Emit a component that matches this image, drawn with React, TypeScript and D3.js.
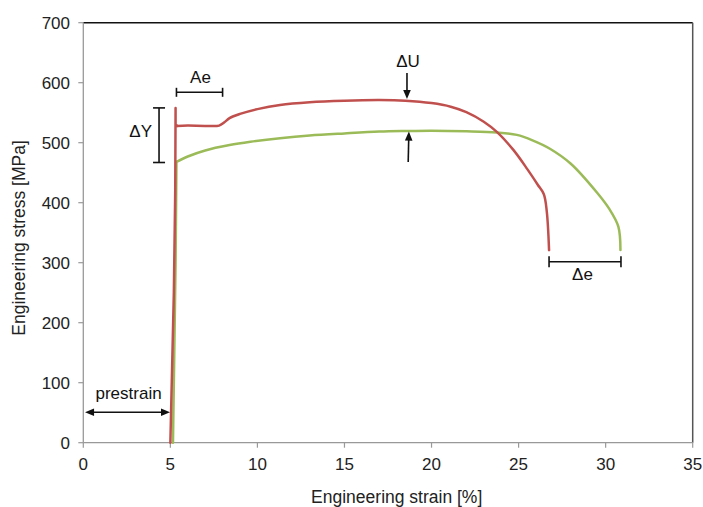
import React from "react";
import * as d3 from "d3";

type P = [number, number];

// Red curve (prestrained, with yield point)
const redElastic: P[] = [[5.0, 0], [5.2, 250], [5.28, 420], [5.3, 558], [5.3, 530], [5.4, 528]];
const redPlastic: P[] = [
  [5.4, 528], [6, 528.5], [7, 528], [7.8, 528.5], [8.1, 534], [8.4, 541], [9, 548], [10, 556],
  [11.3, 563], [13, 567.5], [15, 570], [17, 571], [18.5, 570], [20, 566], [21.1, 560],
  [22, 551], [23, 535], [23.75, 518], [24.7, 488], [25.5, 456], [26.1, 430], [26.45, 414],
  [26.62, 385], [26.75, 321],
];

// Green curve
const greenElastic: P[] = [[5.15, 0], [5.3, 300], [5.35, 468]];
const greenPlastic: P[] = [
  [5.35, 468], [6, 477], [7, 487], [8.4, 496], [9.6, 501.5], [11.3, 507.5], [13, 512],
  [15, 515.5], [17, 518.5], [18.5, 519.5], [20, 520], [22, 519], [23.75, 517], [24.9, 513],
  [25.8, 504], [26.8, 490], [28, 465], [29.5, 417], [30.2, 390], [30.73, 360], [30.85, 321],
];

const xTicks = [0, 5, 10, 15, 20, 25, 30, 35];
const yTicks = [0, 100, 200, 300, 400, 500, 600, 700];

// Annotations in data units
const dimBars = [
  { name: "ΔY", orient: "v", x: 4.35, a: 467, b: 558, cap: 6 },
  { name: "Ae", orient: "h", y: 584, a: 5.35, b: 8.0, cap: 4.5 },
  { name: "Δe", orient: "h", y: 301.7, a: 26.75, b: 30.88, cap: 5.5 },
];
const arrows = [
  { from: [18.59, 616] as P, to: [18.59, 573] as P, heads: 1 },
  { from: [18.66, 468] as P, to: [18.7, 518.5] as P, heads: 1 },
  { from: [4.98, 50.7] as P, to: [0.1, 50.7] as P, heads: 2 },
];
const labels = [
  { text: "ΔY", x: 3.95, y: 509.5, anchor: "end" },
  { text: "Ae", x: 6.73, y: 599, anchor: "middle" },
  { text: "ΔU", x: 18.65, y: 626.7, anchor: "middle" },
  { text: "Δe", x: 28.67, y: 271, anchor: "middle" },
  { text: "prestrain", x: 2.6, y: 72.3, anchor: "middle" },
];

const W = 703, H = 507;
const x = d3.scaleLinear().domain([0, 35]).range([83.3, 692.7]);
const y = d3.scaleLinear().domain([0, 700]).range([442.7, 22.7]);

const RED = "#c0504d";
const GREEN = "#9bbb59";
const FONT = "'Liberation Sans', Arial, sans-serif";

const linLine = d3.line<P>().x(d => x(d[0])).y(d => y(d[1]));
const curveLine = d3.line<P>().x(d => x(d[0])).y(d => y(d[1])).curve(d3.curveCatmullRom.alpha(0.5));

function head(tip: P, from: P) {
  const tx = x(tip[0]), ty = y(tip[1]);
  const fx = x(from[0]), fy = y(from[1]);
  const ang = Math.atan2(ty - fy, tx - fx);
  const L = 9, Wd = 3.8;
  const bx = tx - L * Math.cos(ang), by = ty - L * Math.sin(ang);
  const px = -Math.sin(ang) * Wd, py = Math.cos(ang) * Wd;
  return `M${tx},${ty}L${bx + px},${by + py}L${bx - px},${by - py}Z`;
}

export default function App() {
  const x0 = x.range()[0], x1 = x.range()[1];
  const y0 = y.range()[0], y1 = y.range()[1];
  return (
    <svg width={W} height={H} style={{ position: "absolute", left: 0, top: 0, background: "#fff" }}>
      <rect width={W} height={H} fill="#fff" />
      {/* frame */}
      <line x1={x0} x2={x1} y1={y1} y2={y1} stroke="#111" strokeWidth={1.5} />
      <line x1={x1} x2={x1} y1={y1} y2={y0} stroke="#555" strokeWidth={1.5} />
      <line x1={x0} x2={x0} y1={y1} y2={y0} stroke="#999" strokeWidth={1.3} />
      <line x1={x0} x2={x1} y1={y0} y2={y0} stroke="#999" strokeWidth={1.3} />
      {yTicks.map(t => (
        <g key={"y" + t}>
          <line x1={x0 - 5} x2={x0} y1={y(t)} y2={y(t)} stroke="#999" strokeWidth={1.2} />
          <text x={70} y={y(t)} dy="0.36em" textAnchor="end" fontFamily={FONT} fontSize={17} fill="#222">{t}</text>
        </g>
      ))}
      {xTicks.map(t => (
        <g key={"x" + t}>
          <line x1={x(t)} x2={x(t)} y1={y0} y2={y0 + 5} stroke="#999" strokeWidth={1.2} />
          <text x={x(t)} y={470} textAnchor="middle" fontFamily={FONT} fontSize={17} fill="#222">{t}</text>
        </g>
      ))}
      <text x={396.7} y={502.5} textAnchor="middle" fontFamily={FONT} fontSize={17.5} fill="#222">Engineering strain [%]</text>
      <text transform={`translate(25,238) rotate(-90)`} textAnchor="middle" fontFamily={FONT} fontSize={17.5} fill="#222">Engineering stress [MPa]</text>

      {/* curves */}
      <g fill="none" strokeWidth={2.5} strokeLinejoin="round" strokeLinecap="round">
        <path d={linLine(greenElastic) || ""} stroke={GREEN} />
        <path d={curveLine(greenPlastic) || ""} stroke={GREEN} />
        <path d={linLine(redElastic) || ""} stroke={RED} />
        <path d={curveLine(redPlastic) || ""} stroke={RED} />
      </g>

      {/* dimension bars */}
      {dimBars.map(b => b.orient === "v" ? (
        <g key={b.name} stroke="#111" strokeWidth={1.6}>
          <line x1={x(b.x!)} x2={x(b.x!)} y1={y(b.a)} y2={y(b.b)} />
          <line x1={x(b.x!) - b.cap} x2={x(b.x!) + b.cap} y1={y(b.a)} y2={y(b.a)} />
          <line x1={x(b.x!) - b.cap} x2={x(b.x!) + b.cap} y1={y(b.b)} y2={y(b.b)} />
        </g>
      ) : (
        <g key={b.name} stroke="#111" strokeWidth={1.6}>
          <line x1={x(b.a)} x2={x(b.b)} y1={y(b.y!)} y2={y(b.y!)} />
          <line x1={x(b.a)} x2={x(b.a)} y1={y(b.y!) - b.cap} y2={y(b.y!) + b.cap} />
          <line x1={x(b.b)} x2={x(b.b)} y1={y(b.y!) - b.cap} y2={y(b.y!) + b.cap} />
        </g>
      ))}

      {/* arrows */}
      {arrows.map((a, i) => {
        const ang = Math.atan2(y(a.to[1]) - y(a.from[1]), x(a.to[0]) - x(a.from[0]));
        const sx = a.heads === 2 ? x(a.from[0]) + 8 * Math.cos(ang) : x(a.from[0]);
        const sy = a.heads === 2 ? y(a.from[1]) + 8 * Math.sin(ang) : y(a.from[1]);
        const ex = x(a.to[0]) - 8 * Math.cos(ang), ey = y(a.to[1]) - 8 * Math.sin(ang);
        return (
          <g key={"a" + i}>
            <line x1={sx} y1={sy} x2={ex} y2={ey} stroke="#111" strokeWidth={1.6} />
            <path d={head(a.to, a.from)} fill="#111" />
            {a.heads === 2 && <path d={head(a.from, a.to)} fill="#111" />}
          </g>
        );
      })}

      {labels.map(l => (
        <text key={l.text} x={x(l.x)} y={y(l.y)} textAnchor={l.anchor as any} fontFamily={FONT} fontSize={17} fill="#111">{l.text}</text>
      ))}
    </svg>
  );
}
